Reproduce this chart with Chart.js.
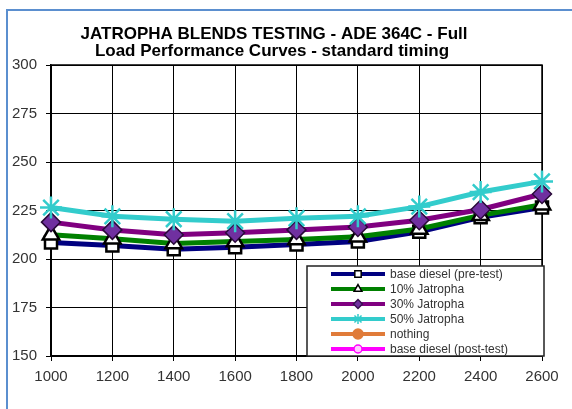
<!DOCTYPE html>
<html>
<head>
<meta charset="utf-8">
<script src="https://cdn.jsdelivr.net/npm/chart.js@4/dist/chart.umd.min.js"></script>
<style>
    html, body { margin: 0; padding: 0; background: #fff; overflow: hidden; }
    #wrap { position: relative; width: 572px; height: 409px; }
    #frame { position: absolute; left: 6px; top: 9px; width: 700px; height: 600px;
             border-left: 2px solid #5b8fcf; border-top: 2px solid #5b8fcf; }
    canvas { position: absolute; left: 0; top: 0; }
</style>
</head>
<body>
<div id="wrap">
    <div id="frame"></div>
    <canvas id="perfChart" width="572" height="409"></canvas>
</div>
<script>
// Full load performance - engine speed (rpm)
const rpm = [1000, 1200, 1400, 1600, 1800, 2000, 2200, 2400, 2600];

const baseDieselPre = [208.5, 207, 205, 206, 207.5, 209, 214, 221.5, 226.5];
const jatropha10   = [212.5, 210.5, 208, 209, 210, 211.5, 215.5, 222.5, 228];
const jatropha30   = [219, 215, 212.5, 213.5, 215, 216.5, 220, 225.5, 233.5];
const jatropha50   = [226.5, 222, 220.5, 219.5, 221, 222, 227, 234.5, 240];
const nothing      = [];
const baseDieselPost = [];

const yTicks = [150, 175, 200, 225, 250, 275, 300];
const titleLines = ['JATROPHA BLENDS TESTING - ADE 364C - Full', 'Load Performance Curves - standard timing'];

const FONT = '"Liberation Sans", Arial, sans-serif';

// solid border round the plot (grid itself is dashed)
const plotBorder = {
    id: 'plotBorder',
    beforeDatasetsDraw(chart) {
        const a = chart.chartArea, ctx = chart.ctx;
        ctx.save();
        ctx.strokeStyle = '#000';
        ctx.lineWidth = 1.5;
        ctx.strokeRect(a.left, a.top, a.right - a.left, a.bottom - a.top);
        ctx.restore();
    }
};

const titleDraw = {
    id: 'titleDraw',
    afterDraw(chart) {
        const ctx = chart.ctx;
        ctx.save();
        ctx.fillStyle = '#000';
        ctx.font = 'bold 17px ' + FONT;
        ctx.textAlign = 'center';
        ctx.textBaseline = 'alphabetic';
        ctx.fillText(titleLines[0], 274, 39);
        ctx.fillText(titleLines[1], 272, 56);
        ctx.restore();
    }
};

// Legend box inside the plot, bottom-right, line + marker like Excel
const boxLegend = {
    id: 'boxLegend',
    afterDraw(chart) {
        const a = chart.chartArea, ctx = chart.ctx;
        const x0 = a.right - 235, y0 = a.bottom - 90;
        const w = 237, h = 90;
        ctx.save();
        ctx.fillStyle = '#fff';
        ctx.fillRect(x0, y0, w, h);
        ctx.strokeStyle = '#222';
        ctx.lineWidth = 1.5;
        ctx.strokeRect(x0, y0, w, h);
        chart.data.datasets.forEach((ds, i) => {
            const y = y0 + 8 + i * 15;
            ctx.strokeStyle = ds.borderColor;
            ctx.lineWidth = 4;
            ctx.beginPath();
            ctx.moveTo(x0 + 24, y);
            ctx.lineTo(x0 + 78, y);
            ctx.stroke();
            ctx.fillStyle = ds.legendFill;
            ctx.strokeStyle = ds.legendStroke;
            ctx.lineWidth = 1.5;
            Chart.helpers.drawPoint(ctx, { pointStyle: ds.pointStyle, radius: ds.legendRadius, rotation: 0, borderWidth: 1.5 }, x0 + 51, y);
            ctx.fillStyle = '#333';
            ctx.font = '12px ' + FONT;
            ctx.textAlign = 'left';
            ctx.textBaseline = 'middle';
            ctx.fillText(ds.label, x0 + 83, y + 1);
        });
        ctx.restore();
    }
};

new Chart(document.getElementById('perfChart'), {
    type: 'line',
    data: {
        labels: rpm,
        datasets: [
            {
                label: 'base diesel (pre-test)',
                data: baseDieselPre,
                borderColor: '#000080',
                borderWidth: 5,
                pointStyle: 'rect',
                pointRadius: 8.5,
                pointBackgroundColor: '#fff',
                pointBorderColor: '#000',
                pointBorderWidth: 2.5,
                legendFill: '#fff', legendStroke: '#000', legendRadius: 4.5,
                order: 6
            },
            {
                label: '10% Jatropha',
                data: jatropha10,
                borderColor: '#008000',
                borderWidth: 5,
                pointStyle: 'triangle',
                pointRadius: 9.5,
                pointBackgroundColor: '#fff',
                pointBorderColor: '#000',
                pointBorderWidth: 2.5,
                legendFill: '#fff', legendStroke: '#000', legendRadius: 4.5,
                order: 5
            },
            {
                label: '30% Jatropha',
                data: jatropha30,
                borderColor: '#800080',
                borderWidth: 5,
                pointStyle: 'rectRot',
                pointRadius: 9.5,
                pointBackgroundColor: '#7030a0',
                pointBorderColor: '#2a0a3a',
                pointBorderWidth: 1.5,
                legendFill: '#7030a0', legendStroke: '#3a1050', legendRadius: 4.5,
                order: 4
            },
            {
                label: '50% Jatropha',
                data: jatropha50,
                borderColor: '#33cccc',
                borderWidth: 5,
                pointStyle: 'star',
                pointRadius: 11,
                pointBackgroundColor: '#33cccc',
                pointBorderColor: '#33cccc',
                pointBorderWidth: 2.5,
                legendFill: '#33cccc', legendStroke: '#33cccc', legendRadius: 5,
                order: 3
            },
            {
                label: 'nothing',
                data: nothing,
                borderColor: '#e07b39',
                borderWidth: 5,
                pointStyle: 'circle',
                pointRadius: 6,
                legendFill: '#e07b39', legendStroke: '#e07b39', legendRadius: 5,
                order: 2
            },
            {
                label: 'base diesel (post-test)',
                data: baseDieselPost,
                borderColor: '#ff00ff',
                borderWidth: 5,
                pointStyle: 'circle',
                pointRadius: 6,
                legendFill: '#ffccff', legendStroke: '#ff00ff', legendRadius: 4,
                order: 1
            }
        ]
    },
    options: {
        responsive: false,
        animation: false,
        layout: { padding: { top: 65, right: 30, left: 0, bottom: 0 } },
        elements: { line: { tension: 0 } },
        plugins: {
            legend: { display: false },
            title: { display: false },
            tooltip: { enabled: false }
        },
        scales: {
            x: {
                type: 'category',
                offset: false,
                grid: {
                    color: '#000',
                    lineWidth: 1,
                    borderDash: [3, 2],
                    tickLength: 5,
                    tickColor: '#000',
                    tickBorderDash: []
                },
                border: { display: true, color: '#000', width: 1.5 },
                ticks: {
                    color: '#333',
                    padding: 7,
                    maxRotation: 0,
                    font: { family: FONT, size: 15 }
                },
                afterFit(scale) { scale.height = 53; }
            },
            y: {
                min: 150,
                max: 300,
                afterBuildTicks(scale) { scale.ticks = yTicks.map(v => ({ value: v })); },
                grid: {
                    color: '#000',
                    lineWidth: 1,
                    borderDash: [3, 2],
                    tickLength: 5,
                    tickColor: '#000',
                    tickBorderDash: []
                },
                border: { display: true, color: '#000', width: 1.5 },
                ticks: {
                    color: '#333',
                    padding: 9,
                    font: { family: FONT, size: 15 }
                },
                afterFit(scale) { scale.width = 51; }
            }
        }
    },
    plugins: [plotBorder, titleDraw, boxLegend]
});
</script>
</body>
</html>
